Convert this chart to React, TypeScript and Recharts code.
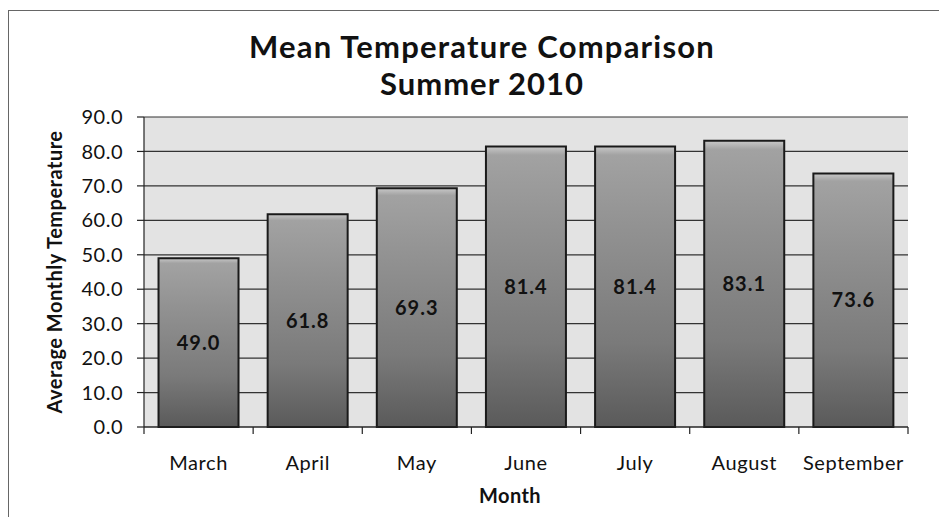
import React from "react";
import { BarChart, Bar, XAxis, YAxis, CartesianGrid, LabelList } from "recharts";

const months = ["March", "April", "May", "June", "July", "August", "September"];
const temps = [49.0, 61.8, 69.3, 81.4, 81.4, 83.1, 73.6];
const yTicks = [0, 10, 20, 30, 40, 50, 60, 70, 80, 90];
const titleLines = ["Mean Temperature Comparison", "Summer 2010"];
const yTitle = "Average Monthly Temperature";
const xTitle = "Month";

const data = months.map((m, i) => ({ month: m, temp: temps[i] }));

const FONT = "Lato, 'Open Sans', sans-serif";
const TICK_SIZE = 7;
const TICK_MARGIN = 22;

const XTick = (props: any) => {
  const { x, y, payload, index, visibleTicksCount } = props;
  const half = payload && payload.offset != null ? payload.offset : 764 / 7 / 2;
  const axisY = y - TICK_SIZE - TICK_MARGIN;
  const last = index === visibleTicksCount - 1;
  return (
    <g>
      <line x1={x - half} x2={x - half} y1={axisY} y2={axisY + TICK_SIZE} stroke="#222" strokeWidth={1.2} />
      {last && (
        <line x1={x + half} x2={x + half} y1={axisY} y2={axisY + TICK_SIZE} stroke="#222" strokeWidth={1.2} />
      )}
      <text
        x={x}
        y={y}
        dy="0.71em"
        textAnchor="middle"
        fill="#111"
        fontFamily={FONT}
        fontSize={20}
        letterSpacing={0.6}
      >
        {payload.value}
      </text>
    </g>
  );
};

const YTitle = (props: any) => {
  const vb = props.viewBox || { x: 0, y: 106, width: 135, height: 310 };
  const cx = 45;
  const cy = vb.y + vb.height / 2;
  return (
    <text
      x={cx}
      y={cy}
      transform={`rotate(-90, ${cx}, ${cy})`}
      textAnchor="middle"
      dominantBaseline="central"
      fontFamily={FONT}
      fontWeight={700}
      fontSize={20}
      letterSpacing={0.5}
      fill="#111"
    >
      {yTitle}
    </text>
  );
};

const XTitle = () => {
  return (
    <text
      x={501}
      y={492}
      textAnchor="middle"
      fontFamily={FONT}
      fontWeight={700}
      fontSize={20}
      letterSpacing={0.4}
      fill="#111"
    >
      {xTitle}
    </text>
  );
};

export default function App() {
  return (
    <div
      style={{
        position: "relative",
        top: 2,
        width: 939,
        height: 509,
        borderTop: "1px solid #666",
        borderLeft: "1px solid #666",
        boxSizing: "border-box",
        background: "#fff",
      }}
    >
      <BarChart
        width={930}
        height={497}
        data={data}
        margin={{ top: 106, right: 31, left: 0, bottom: 21 }}
        barCategoryGap="13.3%"
      >
        <defs>
          <linearGradient id="barGrad" x1="0" y1="0" x2="0" y2="1">
            <stop offset="0%" stopColor="#c8c8c8" />
            <stop offset="3%" stopColor="#a2a2a2" />
            <stop offset="30%" stopColor="#919191" />
            <stop offset="70%" stopColor="#7a7a7a" />
            <stop offset="100%" stopColor="#5a5a5a" />
          </linearGradient>
        </defs>
        <CartesianGrid vertical={false} stroke="#333" strokeWidth={1.2} fill="#e3e3e3" fillOpacity={1} />
        <XAxis
          dataKey="month"
          type="category"
          height={60}
          tickLine={false}
          tickSize={TICK_SIZE}
          tickMargin={TICK_MARGIN}
          axisLine={{ stroke: "#222", strokeWidth: 1.2 }}
          tick={<XTick />}
          interval={0}
          label={<XTitle />}
        />
        <YAxis
          width={135}
          domain={[0, 90]}
          ticks={yTicks}
          interval={0}
          tickFormatter={(v: number) => v.toFixed(1)}
          tickSize={TICK_SIZE}
          tickMargin={14}
          tickLine={{ stroke: "#222", strokeWidth: 1.2 }}
          axisLine={{ stroke: "#222", strokeWidth: 1.2 }}
          tick={{ fill: "#111", fontFamily: FONT, fontSize: 20, letterSpacing: 0.5 }}
          label={<YTitle />}
        />
        <Bar dataKey="temp" fill="url(#barGrad)" stroke="#1a1a1a" strokeWidth={2} isAnimationActive={false}>
          <LabelList
            dataKey="temp"
            position="center"
            formatter={(v: any) => Number(v).toFixed(1)}
            style={{ fontFamily: FONT, fontWeight: 700, fontSize: 20, letterSpacing: 1, fill: "#111" }}
          />
        </Bar>
      </BarChart>
      <svg
        width={930}
        height={120}
        style={{ position: "absolute", left: 0, top: 0, pointerEvents: "none" }}
      >
        <text
          x={473}
          y={47}
          textAnchor="middle"
          fontFamily={FONT}
          fontWeight={700}
          fontSize={31}
          letterSpacing={1.2}
          fill="#111"
        >
          {titleLines[0]}
        </text>
        <text
          x={473}
          y={84}
          textAnchor="middle"
          fontFamily={FONT}
          fontWeight={700}
          fontSize={31}
          letterSpacing={1}
          fill="#111"
        >
          {titleLines[1]}
        </text>
      </svg>
    </div>
  );
}
